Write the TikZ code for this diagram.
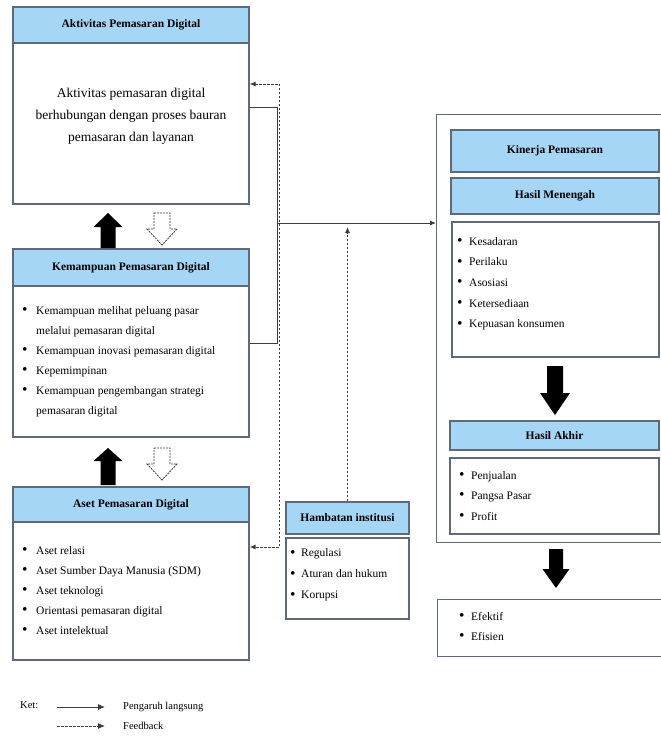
\documentclass[tikz,border=0pt]{standalone}
\usepackage{fontspec}
\setmainfont{Liberation Serif}
\usetikzlibrary{arrows.meta}
\definecolor{hdrfill}{RGB}{166,214,246}
\definecolor{bord}{RGB}{95,105,125}
\definecolor{conn}{RGB}{60,60,60}
\newcommand{\bulx}{\raisebox{-0.3pt}{\scalebox{1.35}{\textbullet}}}
\begin{document}
\begin{tikzpicture}[x=1pt,y=-1pt,
 hdr/.style={draw=bord, line width=1.2pt, fill=hdrfill, inner sep=0pt, font=\fontsize{11.5}{13}\selectfont\bfseries},
 bodybox/.style={draw=bord, line width=1.2pt, fill=white, inner sep=0pt},
 listtxt/.style={anchor=north west, inner sep=0pt, align=left},
 link/.style={draw=conn, line width=0.9pt},
 fb/.style={draw=conn, line width=0.9pt, dash pattern=on 2.5pt off 1.5pt},
 tip/.style={-{Latex[length=6pt,width=5pt]}},
 hollow/.style={draw=conn, line width=0.8pt, dash pattern=on 2pt off 1pt, fill=white}
]
\useasboundingbox (0,0) rectangle (661,740);
\clip (0,0) rectangle (661,740);
\fill[white] (0,0) rectangle (661,740);

% Left column
\node[hdr, minimum width=236pt, minimum height=36pt] (akth) at (131,25) {Aktivitas Pemasaran Digital};
\node[bodybox, minimum width=236pt, minimum height=161pt] (aktb) at (131,123.5) {};
\node[inner sep=0pt, align=center, font=\fontsize{13.5}{22}\selectfont] (akttxt) at (131,116) {Aktivitas pemasaran digital\\berhubungan dengan proses bauran\\pemasaran dan layanan};

\node[hdr, minimum width=236pt, minimum height=37pt] (kemh) at (131,267.5) {Kemampuan Pemasaran Digital};
\node[bodybox, minimum width=236pt, minimum height=151pt] (kemb) at (131,361.5) {};
\node[listtxt, font=\fontsize{11.5}{20}\selectfont] (kemtxt) at (22,300) {\begin{tabular}{@{}p{14pt}@{}l@{}}
\bulx & Kemampuan melihat peluang pasar\\
 & melalui pemasaran digital\\
\bulx & Kemampuan inovasi pemasaran digital\\
\bulx & Kepemimpinan\\
\bulx & Kemampuan pengembangan strategi\\
 & pemasaran digital
\end{tabular}};

\node[hdr, minimum width=236pt, minimum height=35pt] (aseth) at (131,504.5) {Aset Pemasaran Digital};
\node[bodybox, minimum width=236pt, minimum height=138pt] (asetb) at (131,591) {};
\node[listtxt, font=\fontsize{11.5}{20}\selectfont] (asettxt) at (22,540) {\begin{tabular}{@{}p{14pt}@{}l@{}}
\bulx & Aset relasi\\
\bulx & Aset Sumber Daya Manusia (SDM)\\
\bulx & Aset teknologi\\
\bulx & Orientasi pemasaran digital\\
\bulx & Aset intelektual
\end{tabular}};

% Block arrows, left
\fill[black] (108,213) -- (122.5,227) -- (115.5,227) -- (115.5,248) -- (100.5,248) -- (100.5,227) -- (93.5,227) -- cycle;
\draw[hollow] (154,213) -- (170,213) -- (170,229) -- (177,229) -- (162,245) -- (147,229) -- (154,229) -- cycle;
\fill[black] (108,448) -- (122.5,461) -- (115.5,461) -- (115.5,485) -- (100.5,485) -- (100.5,461) -- (93.5,461) -- cycle;
\draw[hollow] (154,448) -- (170,448) -- (170,464) -- (177,464) -- (162,480) -- (147,464) -- (154,464) -- cycle;

% Hambatan
\node[hdr, minimum width=123pt, minimum height=32pt] (hamh) at (347.5,518) {Hambatan institusi};
\node[bodybox, minimum width=123pt, minimum height=81pt] (hamb) at (347.5,578.5) {};
\node[listtxt, font=\fontsize{11.5}{21}\selectfont] (hamtxt) at (290,542) {\begin{tabular}{@{}p{11pt}@{}l@{}}
\bulx & Regulasi\\
\bulx & Aturan dan hukum\\
\bulx & Korupsi
\end{tabular}};

% Right column
\node[bodybox, anchor=north west, minimum width=240pt, minimum height=428pt] (kin) at (436,114) {};
\node[hdr, minimum width=208pt, minimum height=42pt] (kinh) at (555,151) {Kinerja Pemasaran};
\node[hdr, minimum width=208pt, minimum height=36pt] (menh) at (555,196) {Hasil Menengah};
\node[bodybox, minimum width=207pt, minimum height=135pt] (menb) at (555.5,289.5) {};
\node[listtxt, font=\fontsize{11.5}{20.7}\selectfont] (mentxt) at (457,230.5) {\begin{tabular}{@{}p{12pt}@{}l@{}}
\bulx & Kesadaran\\
\bulx & Perilaku\\
\bulx & Asosiasi\\
\bulx & Ketersediaan\\
\bulx & Kepuasan konsumen
\end{tabular}};

\fill[black] (555,415) -- (570,393) -- (563,393) -- (563,366) -- (547,366) -- (547,393) -- (540,393) -- cycle;

\node[hdr, minimum width=209pt, minimum height=29pt] (akhh) at (554.5,435.5) {Hasil Akhir};
\node[bodybox, minimum width=209pt, minimum height=76pt] (akhb) at (554.5,496) {};
\node[listtxt, font=\fontsize{11.5}{20.5}\selectfont] (akhtxt) at (459,464.6) {\begin{tabular}{@{}p{12pt}@{}l@{}}
\bulx & Penjualan\\
\bulx & Pangsa Pasar\\
\bulx & Profit
\end{tabular}};

\fill[black] (556,588) -- (569.5,569) -- (563,569) -- (563,549) -- (549,549) -- (549,569) -- (542.5,569) -- cycle;

\node[bodybox, anchor=north west, minimum width=240pt, minimum height=57pt] (fin) at (437,599) {};
\node[listtxt, font=\fontsize{11.5}{20}\selectfont] (fintxt) at (459,606) {\begin{tabular}{@{}p{12pt}@{}l@{}}
\bulx & Efektif\\
\bulx & Efisien
\end{tabular}};

% Connectors
\coordinate (j1) at (277,107);
\coordinate (j2) at (277,343);
\coordinate (jm) at (277,223);
\draw[link] (aktb.east |- j1) -- (j1) -- (j2) -- (kemb.east |- j2);
\draw[link,tip] (jm) -- (kin.west |- jm);

\coordinate (fbtop) at (279.5,84);
\coordinate (fbbot) at (279.5,547);
\draw[fb, {Latex[length=6pt,width=5pt]}-{Latex[length=6pt,width=5pt]}] (aktb.east |- fbtop) -- (fbtop) -- (fbbot) -- (asetb.east |- fbbot);

\coordinate (hup) at (347.5,227);
\draw[fb,tip] (hamh.north) -- (hup);

% Legend
\node[anchor=west, inner sep=0pt, font=\fontsize{10.5}{12}\selectfont] (ket) at (20,705) {Ket:};
\coordinate (l1a) at (57,707);
\coordinate (l1b) at (105,707);
\coordinate (l2a) at (57,726);
\coordinate (l2b) at (105,726);
\draw[link,-{Latex[length=7pt,width=6pt]}] (l1a) -- (l1b);
\draw[fb,-{Latex[length=7pt,width=6pt]}] (l2a) -- (l2b);
\node[anchor=west, inner sep=0pt, font=\fontsize{10.5}{12}\selectfont] (leg1) at (123,707) {Pengaruh langsung};
\node[anchor=west, inner sep=0pt, font=\fontsize{10.5}{12}\selectfont] (leg2) at (123,726) {Feedback};
\end{tikzpicture}
\end{document}
